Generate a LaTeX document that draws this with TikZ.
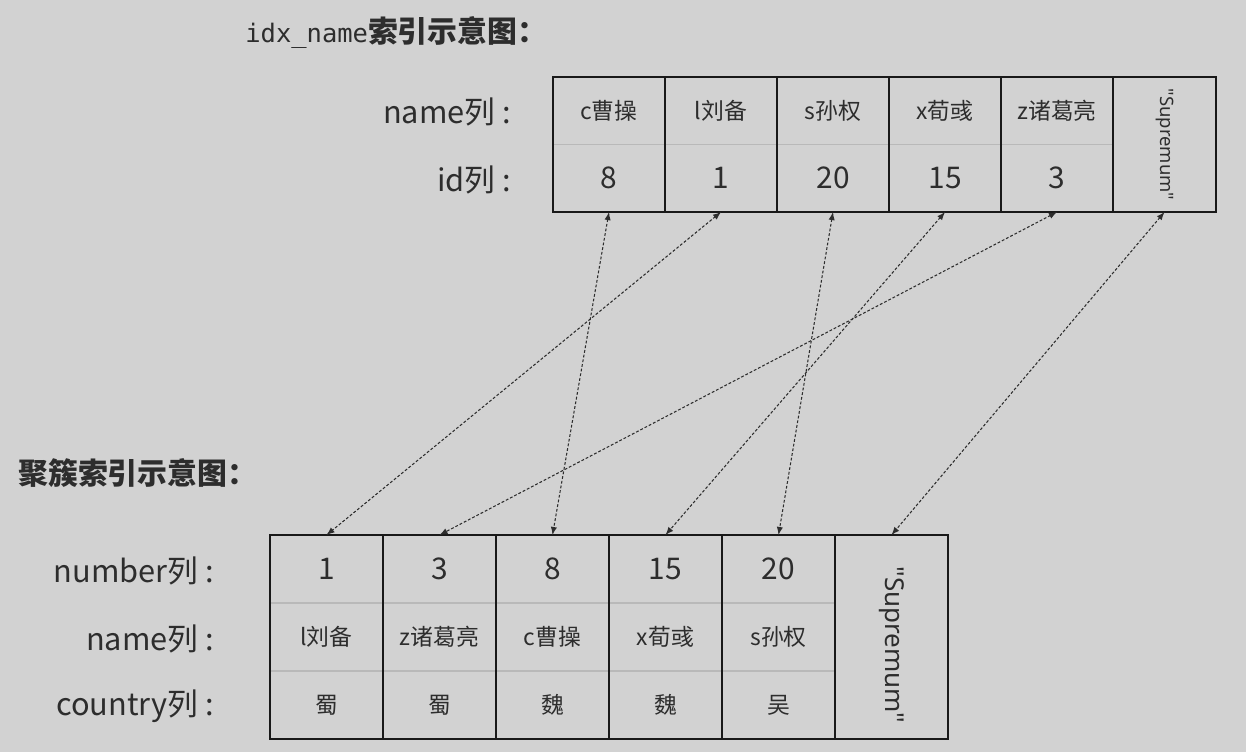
\documentclass[tikz,border=0pt]{standalone}
\usepackage{fontspec}
\setmainfont{Noto Sans CJK SC}
\newfontfamily\titlemono{DejaVu Sans Mono}
\newfontfamily\supfont{Noto Sans}
\usetikzlibrary{calc}
\definecolor{bg}{RGB}{210,210,210}
\definecolor{ink}{RGB}{45,45,45}
\definecolor{rule}{RGB}{25,25,25}
\definecolor{thin}{RGB}{185,185,185}
\tikzset{
    cell/.style = {
        rectangle, align=center,
        outer sep=0,
        inner sep=0,
        minimum width={2.24cm},
        minimum height={1.35cm},
        text=ink
    },
    bcell/.style = {
        cell,
        minimum width={2.26cm},
        minimum height={1.36cm}
    },
    nametext/.style = {font=\fontsize{13}{15}\selectfont},
    numtext/.style  = {font=\fontsize{17}{20}\selectfont},
    rowlabel/.style = {anchor=east, text=ink, font=\fontsize{17.5}{20}\selectfont},
    title/.style    = {anchor=west, inner sep=0, text=ink, font=\bfseries\fontsize{17}{20}\selectfont},
    tableframe/.style = {draw=rule, line width=1.5pt},
    divider/.style  = {draw=thin, line width=0.8pt},
    link/.style     = {latex-latex, draw=ink, line width=0.6pt, dash pattern=on 1.6pt off 1.1pt}
}

\begin{document}
\begin{tikzpicture}[x=0.02cm, y=-0.02cm]

% 0. background
\fill[bg] (0,0) rectangle (1246,752);

% 1. titles
\node[title] (ttitle) at (245,33)  {{\titlemono\mdseries\fontsize{14.5}{17}\selectfont idx\_name}索引示意图：};
\node[title] (btitle) at (18,473)  {聚簇索引示意图：};

% 2. idx_name table
\node[rowlabel] (lname) at (517,112) {name列 :};
\node[rowlabel] (lid)   at (517,180) {id列 :};

\node[cell,nametext] (tn1) at (609,110.75)  {c曹操};
\node[cell,nametext] (tn2) at (721,110.75)  {l刘备};
\node[cell,nametext] (tn3) at (833,110.75)  {s孙权};
\node[cell,nametext] (tn4) at (945,110.75)  {x荀彧};
\node[cell,nametext] (tn5) at (1057,110.75) {z诸葛亮};
\node[cell,numtext]  (ti1) at (609,178.25)  {8};
\node[cell,numtext]  (ti2) at (721,178.25)  {1};
\node[cell,numtext]  (ti3) at (833,178.25)  {20};
\node[cell,numtext]  (ti4) at (945,178.25)  {15};
\node[cell,numtext]  (ti5) at (1057,178.25) {3};
\node[cell,tableframe,minimum width=2.06cm,minimum height=2.7cm,
      font=\supfont\fontsize{10.5}{12}\selectfont] (tsup) at (1164.5,144.5) {\rotatebox{-90}{"Supremum"}};

\draw[divider] (tn1.south west) -- (tn5.south east);
\draw[tableframe]
  (tn1.north west) rectangle (ti1.south east) (tn2.north west) rectangle (ti2.south east)
  (tn3.north west) rectangle (ti3.south east) (tn4.north west) rectangle (ti4.south east)
  (tn5.north west) rectangle (ti5.south east);

% 3. clustered table
\node[rowlabel] (lnum)     at (220,571) {number列 :};
\node[rowlabel] (lbname)   at (220,639) {name列 :};
\node[rowlabel] (lcountry) at (220,706) {country列 :};

\node[bcell,numtext]  (bn1) at (326.5,569) {1};
\node[bcell,numtext]  (bn2) at (439.5,569) {3};
\node[bcell,numtext]  (bn3) at (552.5,569) {8};
\node[bcell,numtext]  (bn4) at (665.5,569) {15};
\node[bcell,numtext]  (bn5) at (778.5,569) {20};
\node[bcell,nametext] (bm1) at (326.5,637) {l刘备};
\node[bcell,nametext] (bm2) at (439.5,637) {z诸葛亮};
\node[bcell,nametext] (bm3) at (552.5,637) {c曹操};
\node[bcell,nametext] (bm4) at (665.5,637) {x荀彧};
\node[bcell,nametext] (bm5) at (778.5,637) {s孙权};
\node[bcell,nametext] (bc1) at (326.5,705) {蜀};
\node[bcell,nametext] (bc2) at (439.5,705) {蜀};
\node[bcell,nametext] (bc3) at (552.5,705) {魏};
\node[bcell,nametext] (bc4) at (665.5,705) {魏};
\node[bcell,nametext] (bc5) at (778.5,705) {吴};
\node[bcell,tableframe,minimum height=4.08cm] (bsup) at (891.5,637) {};
\node[text=ink,font=\supfont\fontsize{14.8}{17}\selectfont] (bsuptext) at (891.5,645) {\rotatebox{-90}{"Supremum"}};

\draw[divider] (bn1.south west) -- (bn5.south east) (bm1.south west) -- (bm5.south east);
\draw[tableframe]
  (bn1.north west) rectangle (bc1.south east) (bn2.north west) rectangle (bc2.south east)
  (bn3.north west) rectangle (bc3.south east) (bn4.north west) rectangle (bc4.south east)
  (bn5.north west) rectangle (bc5.south east);

% 4. links id -> number
\draw[link] (ti1.south)  -- (bn3.north);
\draw[link] (ti2.south)  -- (bn1.north);
\draw[link] (ti3.south)  -- (bn5.north);
\draw[link] (ti4.south)  -- (bn4.north);
\draw[link] (ti5.south)  -- (bn2.north);
\draw[link] (tsup.south) -- (bsup.north);

\end{tikzpicture}
\end{document}
